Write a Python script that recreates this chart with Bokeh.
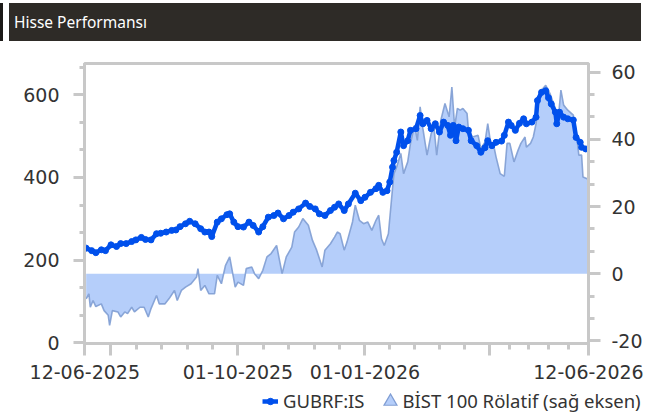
import pandas as pd
from bokeh.plotting import figure
from bokeh.models import Range1d, LinearAxis, FixedTicker, Legend, LegendItem, Div
from bokeh.layouts import column
from bokeh.embed import file_html
from bokeh.resources import INLINE

baslik = "Hisse Performansı"
baslangic = "2025-06-12"

# GUBRF:IS fiyat (sol eksen) - gün: 12-06-2025'ten itibaren geçen gün
gubrf_gun = [1, 5, 8, 12, 15, 19, 23, 26, 30, 34,
             37, 41, 44, 48, 52, 55, 59, 63, 66, 69,
             73, 76, 80, 84, 87, 90, 92, 96, 99, 103,
             105, 108, 111, 115, 119, 122, 126, 129, 133, 137,
             140, 144, 148, 151, 155, 160, 163, 167, 170, 174,
             178, 181, 184, 188, 191, 196, 200, 203, 207, 211,
             213, 216, 219, 221, 223, 224, 226, 229, 231, 234,
             236, 240, 243, 245, 248, 251, 254, 257, 260, 263,
             265, 267, 269, 271, 274, 278, 280, 284, 287, 290,
             292, 295, 298, 302, 304, 307, 309, 312, 315, 318,
             320, 324, 327, 328, 331, 334, 336, 338, 341, 342,
             344, 347, 350, 354, 356, 359, 360, 363]
gubrf_fiyat = [229, 223, 218, 225, 223, 237, 233, 240, 240, 245,
               249, 255, 250, 249, 264, 265, 268, 272, 273, 281,
               288, 294, 288, 276, 268, 268, 257, 292, 300, 310,
               312, 292, 281, 280, 292, 284, 268, 281, 304, 308,
               314, 300, 308, 316, 324, 338, 330, 324, 312, 308,
               320, 328, 336, 320, 336, 362, 344, 352, 364, 373,
               381, 364, 368, 389, 425, 441, 461, 510, 477, 489,
               514, 518, 550, 530, 538, 518, 530, 510, 534, 526,
               502, 526, 489, 522, 518, 514, 489, 477, 461, 472,
               489, 477, 485, 488, 502, 534, 526, 514, 531, 542,
               530, 534, 546, 586, 606, 610, 593, 578, 558, 530,
               558, 546, 542, 539, 497, 485, 473, 469]

# BİST 100 Rölatif (sağ eksen)
bist_gun = [1, 3, 4, 6, 8, 12, 14, 17, 18, 20,
            24, 26, 29, 31, 34, 36, 40, 43, 46, 48,
            52, 54, 58, 61, 65, 67, 70, 73, 77, 81,
            82, 84, 87, 90, 94, 96, 99, 102, 105, 109,
            111, 115, 117, 121, 123, 126, 129, 132, 135, 139,
            143, 146, 150, 152, 155, 158, 162, 165, 168, 172,
            174, 178, 181, 183, 185, 188, 190, 194, 196, 199,
            202, 205, 208, 211, 213, 215, 217, 220, 222, 224,
            226, 229, 231, 234, 236, 239, 241, 243, 245, 248,
            251, 253, 255, 258, 261, 264, 266, 268, 270, 272,
            274, 277, 278, 281, 285, 287, 290, 292, 294, 296,
            298, 301, 304, 306, 308, 311, 314, 316, 319, 320,
            323, 325, 327, 329, 331, 334, 337, 341, 343, 345,
            347, 350, 354, 356, 358, 360, 361, 364]
bist_rolatif = [-7.5, -6.0, -10, -8.0, -9.8, -9.0, -11, -12.4, -15.4, -11,
                -11.4, -12.9, -11.4, -11.9, -10, -11.4, -10, -10, -12.9, -10.4,
                -6.5, -9.0, -9.0, -7.5, -5.0, -8.0, -5.0, -4.0, -3.0, -1.0,
                1.5, -5.0, -3.5, -6.0, -6, -0.5, -3.0, 2.5, 5.0, -4.0,
                -2.5, -3.5, 1.5, 2.0, 0, -1.5, 1.0, 5.0, 6.0, 8.4,
                0, 5.0, 7.9, 12.4, 13.9, 16.4, 14.4, 9.9, 7.0, 2.0,
                7.0, 8.9, 10.9, 12.4, 11.9, 7.0, 9.4, 15.4, 20.4, 15.9,
                14.9, 15.4, 12.9, 15.9, 17.4, 10.4, 8.4, 11.9, 20.9, 29.8,
                31.8, 35.8, 29.8, 33.3, 38.8, 44.2, 39.7, 49.7, 43.2, 35.3,
                41.7, 43.7, 35.3, 45.7, 50.7, 46.7, 55.6, 43.7, 49.2, 48.7,
                49.2, 47.7, 42.7, 40.7, 41.2, 37.3, 39.2, 44.7, 39.2, 38.8,
                34.8, 29.8, 29.0, 38.8, 38.8, 33.3, 36.8, 38.8, 40.7, 37.7,
                38.8, 40.7, 44.7, 51.7, 54.7, 56.1, 53.7, 49.2, 45.7, 54.7,
                50.2, 48.7, 47.2, 42.7, 35.3, 35.3, 28.8, 28.3]

x_tick_tarihleri = ["2025-06-12", "2025-07-01", "2025-10-01", "2026-01-01", "2026-04-01", "2026-06-12"]
x_tick_etiketleri = ["12-06-2025", "", "01-10-2025", "01-01-2026", "", "12-06-2026"]
sol_ticks = [0, 200, 400, 600]
sag_ticks = [-20, 0, 20, 40, 60]
sag_etiketler = ["-20", "0", "20", "40", "60"]

seri1_adi = "GUBRF:IS"
seri2_adi = "BİST 100 Rölatif (sağ eksen)"

# ---------------------------------------------------------------
t0 = pd.Timestamp(baslangic)
xt = [(pd.Timestamp(d) - t0).days for d in x_tick_tarihleri]
x_minor = []
for a, b in zip(xt[1:-1], xt[2:]):
    step = (b - a) / 5.0
    x_minor += [a + step * k for k in range(1, 5) if a + step * k < b - 1]
sol_minor = [200 / 3.0 * k for k in range(0, 11)]
sag_minor = [-20 + 20 / 3.0 * k for k in range(0, 13)]

BLUE = "#0050ec"
FILL = "#b5cefa"
EDGE = "#7f9dd3"
GRAY = "#c8c8c8"
TXT = "#333333"

p = figure(width=651, height=347, output_backend="svg", toolbar_location=None,
           x_range=Range1d(-0.2, 365), y_range=Range1d(-1.7, 675.8),
           min_border_left=84, min_border_right=63, min_border_top=22, min_border_bottom=45)
p.frame_align = False
p.extra_y_ranges = {"rel": Range1d(-20.8, 62.6)}
p.grid.visible = False
p.outline_line_color = GRAY
p.outline_line_width = 3
p.background_fill_color = "white"
p.border_fill_color = "white"

p.varea(x=bist_gun, y1=0, y2=bist_rolatif, y_range_name="rel", fill_color=FILL, fill_alpha=1.0)
p.line(bist_gun, bist_rolatif, y_range_name="rel", line_color=EDGE, line_width=1.6, line_alpha=0.9)
p.line(gubrf_gun, gubrf_fiyat, line_color=BLUE, line_width=4.5)
p.scatter(gubrf_gun, gubrf_fiyat, marker="circle", size=6, fill_color=BLUE, line_color=BLUE)

right = LinearAxis(y_range_name="rel")
p.add_layout(right, "right")


def style(ax, out_major=12, out_minor=6, standoff=10):
    ax.axis_line_color = GRAY
    ax.axis_line_width = 3
    ax.major_tick_line_color = GRAY
    ax.major_tick_line_width = 3
    ax.minor_tick_line_color = GRAY
    ax.minor_tick_line_width = 3
    ax.major_tick_in = 0
    ax.minor_tick_in = 0
    ax.major_tick_out = out_major
    ax.minor_tick_out = out_minor
    ax.major_label_text_font = "DejaVu Sans"
    ax.major_label_text_font_size = "19px"
    ax.major_label_text_color = TXT
    ax.major_label_standoff = standoff


xa = p.xaxis[0]
style(xa, 12, 6, 9)
xa.ticker = FixedTicker(ticks=xt, minor_ticks=x_minor)
xa.major_label_overrides = {t: lab for t, lab in zip(xt, x_tick_etiketleri)}

ya = p.yaxis[0]
style(ya, 11, 5, 14)
ya.ticker = FixedTicker(ticks=sol_ticks, minor_ticks=sol_minor)

style(right, 12, 6, 11)
right.ticker = FixedTicker(ticks=sag_ticks, minor_ticks=sag_minor)
right.major_label_overrides = {t: lab for t, lab in zip(sag_ticks, sag_etiketler)}

# ---- legend strip (separate small figure so that the legend is not clipped) ----
lg = figure(width=651, height=27, output_backend="svg", toolbar_location=None,
            x_range=Range1d(0, 1), y_range=Range1d(0, 1),
            x_axis_location=None, y_axis_location=None, min_border=0)
lg.frame_align = False
lg.grid.visible = False
lg.outline_line_color = None
lg.background_fill_color = "white"
lg.border_fill_color = "white"
# legend-only renderers, kept outside the visible range
k_line = lg.line([-10, -9], [0.5, 0.5], line_color=BLUE, line_width=4.5)
k_dot = lg.scatter([-10], [0.5], marker="circle", fill_color=BLUE, line_color=BLUE)
k_tri_a = lg.scatter([-10], [0.5], marker="triangle", fill_color=FILL, line_color=EDGE,
                     line_width=5, line_join="miter")
k_tri_b = lg.scatter([-10], [0.5], marker="triangle", fill_color=FILL, line_color=FILL,
                     line_width=2.6, line_join="miter")

leg = Legend(items=[LegendItem(label=seri1_adi, renderers=[k_line, k_dot]),
                    LegendItem(label=seri2_adi, renderers=[k_tri_a, k_tri_b])],
             location=(262, 2), orientation="horizontal", padding=0, margin=0, spacing=17,
             glyph_width=16, glyph_height=16, label_height=24, label_standoff=5,
             border_line_alpha=0, background_fill_alpha=0,
             label_text_font="Noto Sans", label_text_font_size="18.5px", label_text_color=TXT)
lg.add_layout(leg)

header = Div(
    text=('<div style="padding-left:14px;line-height:38px;color:#ffffff;'
          'font-family:\'Noto Sans\';font-size:15.5px;white-space:nowrap;">' + baslik + '</div>'),
    width=641, height=38, margin=(3, 0, 0, 0),
    styles={"background": "linear-gradient(to right, #1c1a18 0px, #1c1a18 3px, #ffffff 3px, #ffffff 9px, #2e2b27 9px)"})

layout = column(header, p, lg, spacing=0)
open("out.html", "w").write(file_html(layout, INLINE))
